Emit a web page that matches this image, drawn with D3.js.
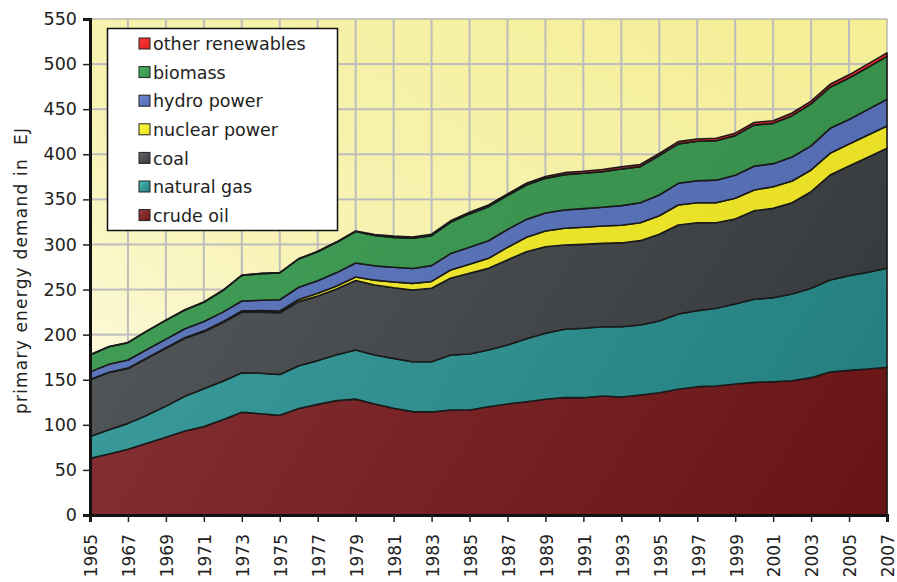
<!DOCTYPE html>
<html>
<head>
<script src="https://cdnjs.cloudflare.com/ajax/libs/d3/7.8.5/d3.min.js"></script>
<style>
  body { margin: 0; background: #fff; }
  text { font-family: "DejaVu Sans", Verdana, sans-serif; fill: #222; }
  .layer { stroke: #1a1a1a; stroke-width: 1.6px; stroke-linejoin: round; }
</style>
</head>
<body>
<div id="chart"></div>
<script>
const years = d3.range(1965, 2008);

const crudeOil = [62.8, 67.6, 72.8, 79.5, 86.1, 93.1, 98.0, 105.5, 114.0, 112.3,
  110.5, 118.0, 122.7, 126.8, 128.5, 123.1, 118.3, 114.6, 114.3, 116.4,
  116.4, 120.1, 123.1, 125.6, 128.3, 130.3, 130.1, 132.0, 130.8, 133.1,
  135.6, 139.4, 142.3, 143.0, 145.3, 147.1, 147.8, 148.9, 152.3, 158.6,
  160.4, 161.9, 163.8];
const naturalGas = [24.2, 26.9, 28.8, 31.2, 34.6, 38.6, 42.0, 42.9, 43.8, 44.8,
  45.3, 47.5, 48.5, 51.0, 54.5, 54.3, 55.4, 55.4, 55.7, 61.0,
  62.1, 62.9, 65.4, 69.9, 73.2, 75.6, 76.9, 76.8, 78.0, 77.6,
  79.5, 83.5, 84.3, 86.2, 88.7, 92.1, 93.2, 96.2, 99.1, 102.0,
  105.0, 107.2, 109.8];
const coal = [63.0, 63.5, 60.9, 63.0, 64.1, 64.2, 63.3, 64.9, 67.2, 67.9,
  68.4, 71.1, 71.7, 72.8, 77.0, 77.6, 78.3, 79.5, 81.4, 85.1,
  89.5, 90.5, 94.3, 96.5, 96.0, 93.5, 93.1, 92.4, 92.9, 93.5,
  96.2, 98.7, 97.5, 94.9, 94.2, 98.2, 99.0, 101.2, 107.1, 116.4,
  121.6, 127.5, 133.0];
const nuclear = [0.2, 0.3, 0.4, 0.5, 0.6, 0.7, 0.9, 1.1, 1.3, 1.6,
  2.0, 2.4, 2.9, 3.4, 4.0, 5.4, 6.4, 7.3, 7.6, 9.2,
  10.0, 11.1, 14.0, 16.0, 17.4, 18.5, 18.9, 19.2, 19.6, 19.9,
  20.6, 22.2, 22.2, 22.2, 23.0, 23.0, 24.0, 24.1, 24.1, 24.1,
  24.4, 24.8, 24.8];
const hydro = [8.5, 8.8, 9.0, 9.3, 9.6, 10.0, 10.3, 10.6, 11.0, 11.5,
  12.5, 13.5, 14.0, 14.8, 15.5, 15.9, 16.3, 16.6, 17.5, 18.2,
  19.0, 19.5, 19.8, 19.8, 19.9, 20.3, 20.7, 20.9, 21.8, 22.2,
  22.9, 24.0, 24.4, 25.0, 25.6, 26.3, 25.6, 26.6, 26.7, 27.7,
  27.2, 28.4, 29.6];
const biomass = [18.7, 19.5, 19.2, 20.4, 20.9, 20.8, 21.4, 23.9, 28.4, 29.5,
  29.7, 31.4, 32.1, 33.6, 34.8, 33.6, 33.2, 33.4, 33.3, 34.6,
  36.9, 37.8, 37.5, 38.2, 38.5, 39.2, 39.2, 39.5, 40.6, 40.0,
  43.7, 43.7, 43.7, 43.8, 43.9, 45.8, 44.7, 45.8, 46.6, 45.5,
  46.0, 46.6, 47.5];
const otherRenewables = [0.2, 0.2, 0.2, 0.2, 0.2, 0.3, 0.3, 0.3, 0.3, 0.4,
  0.4, 0.4, 0.5, 0.5, 0.7, 1.2, 1.4, 1.5, 1.6, 1.7,
  1.8, 1.9, 2.0, 2.0, 2.1, 2.2, 2.2, 2.3, 2.3, 2.4,
  2.4, 2.5, 2.5, 2.6, 2.7, 2.8, 2.9, 3.0, 3.1, 3.3,
  3.5, 3.8, 4.0];

const seriesNames = ["crude oil", "natural gas", "coal", "nuclear power", "hydro power", "biomass", "other renewables"];
const seriesValues = [crudeOil, naturalGas, coal, nuclear, hydro, biomass, otherRenewables];
const yTicks = d3.range(0, 551, 50);
const xTickYears = d3.range(1965, 2008, 2);

// fill colours: light corner, dark corner
const colors = [
  ["#8a363b", "#681414"],
  ["#3fa3a1", "#237c7d"],
  ["#595c5f", "#333639"],
  ["#f1e934", "#e6dd22"],
  ["#6079bd", "#5169ae"],
  ["#42a058", "#348a48"],
  ["#f23030", "#e22222"]
];

const width = 897, height = 582;
const pLeft = 90, pRight = 887, pTop = 19, pBottom = 515;

const table = years.map((yr, i) => {
  const row = { year: yr };
  seriesNames.forEach((n, j) => row[n] = seriesValues[j][i]);
  return row;
});
const stacked = d3.stack().keys(seriesNames)(table);

const x = d3.scaleLinear().domain([1965, 2007]).range([pLeft, pRight]);
const y = d3.scaleLinear().domain([0, 550]).range([pBottom, pTop]);

const svg = d3.select("#chart").append("svg").attr("width", width).attr("height", height);
const defs = svg.append("defs");

const bg = defs.append("linearGradient").attr("id", "bg")
  .attr("x1", 0).attr("y1", 1).attr("x2", 1).attr("y2", 0);
bg.append("stop").attr("offset", "0%").attr("stop-color", "#fefdf0");
bg.append("stop").attr("offset", "40%").attr("stop-color", "#f8f3b4");
bg.append("stop").attr("offset", "100%").attr("stop-color", "#f4ee94");

colors.forEach((c, i) => {
  const g = defs.append("linearGradient").attr("id", "g" + i)
    .attr("gradientUnits", "userSpaceOnUse")
    .attr("x1", pLeft).attr("y1", pTop).attr("x2", pRight).attr("y2", pBottom);
  g.append("stop").attr("offset", "0%").attr("stop-color", c[0]);
  g.append("stop").attr("offset", "100%").attr("stop-color", c[1]);
  const s = defs.append("linearGradient").attr("id", "s" + i)
    .attr("x1", 0).attr("y1", 0).attr("x2", 1).attr("y2", 1);
  s.append("stop").attr("offset", "0%").attr("stop-color", d3.color(c[0]).brighter(0.4));
  s.append("stop").attr("offset", "100%").attr("stop-color", c[1]);
});

svg.append("rect")
  .attr("x", pLeft).attr("y", pTop)
  .attr("width", pRight - pLeft).attr("height", pBottom - pTop)
  .attr("fill", "url(#bg)")
  .attr("stroke", "#9a9a9a").attr("stroke-width", 1);

// grid drawn as thin filled bars
const grid = svg.append("g").attr("fill", "#bdbdbd");
grid.selectAll("rect.h").data(yTicks.slice(1, -1)).join("rect")
  .attr("class", "h")
  .attr("x", pLeft).attr("width", pRight - pLeft)
  .attr("y", d => y(d) - 1).attr("height", 2);
grid.selectAll("rect.v").data(xTickYears.slice(1, -1)).join("rect")
  .attr("class", "v")
  .attr("y", pTop).attr("height", pBottom - pTop)
  .attr("x", d => x(d) - 1).attr("width", 2);

const area = d3.area()
  .x(d => x(d.data.year))
  .y0(d => y(d[0]))
  .y1(d => y(d[1]));

svg.append("g").selectAll("path")
  .data(stacked)
  .enter().append("path")
  .attr("class", "layer")
  .attr("fill", (d, i) => `url(#g${i})`)
  .attr("d", area);

// axes
const yAxis = d3.axisLeft(y).tickValues(yTicks).tickSize(7).tickPadding(6);
const gy = svg.append("g").attr("transform", `translate(${pLeft},0)`).call(yAxis);
gy.select(".domain").attr("stroke", "#111").attr("stroke-width", 3);
gy.selectAll(".tick line").attr("stroke", "#222").attr("stroke-width", 1.5);
gy.selectAll(".tick text").attr("font-size", 17.5).attr("font-family", "DejaVu Sans").attr("fill", "#222");

const xAxis = d3.axisBottom(x).tickValues(xTickYears).tickFormat(d3.format("d")).tickSize(7);
const gx = svg.append("g").attr("transform", `translate(0,${pBottom})`).call(xAxis);
gx.select(".domain").attr("stroke", "#111").attr("stroke-width", 3);
gx.selectAll(".tick line").attr("stroke", "#222").attr("stroke-width", 1.5);
gx.selectAll(".tick text")
  .attr("font-size", 17).attr("font-family", "DejaVu Sans").attr("fill", "#222")
  .attr("text-anchor", "end")
  .attr("transform", "rotate(-90)")
  .attr("x", -19).attr("y", 0).attr("dy", "0.4em");

svg.append("text")
  .attr("transform", `translate(27,${271}) rotate(-90)`)
  .attr("text-anchor", "middle")
  .attr("font-size", 17)
  .attr("textLength", 286)
  .attr("lengthAdjust", "spacing")
  .style("white-space", "pre")
  .text("primary energy demand in  EJ");

// legend
const legend = svg.append("g");
legend.append("rect")
  .attr("x", 107.5).attr("y", 28.5).attr("width", 230).attr("height", 202)
  .attr("fill", "#fff").attr("stroke", "#111").attr("stroke-width", 1.5);
const legendOrder = d3.range(seriesNames.length).reverse();
const item = legend.selectAll(".item").data(legendOrder).enter().append("g")
  .attr("transform", (d, k) => `translate(139,${44 + k * 28.6})`);
item.append("rect")
  .attr("x", 0).attr("y", -6).attr("width", 11).attr("height", 11)
  .attr("fill", d => `url(#s${d})`)
  .attr("stroke", "#222").attr("stroke-width", 1);
item.append("text")
  .attr("x", 14).attr("y", 0).attr("dy", "0.35em")
  .attr("font-size", 17.5)
  .text(d => seriesNames[d]);
</script>
</body>
</html>
